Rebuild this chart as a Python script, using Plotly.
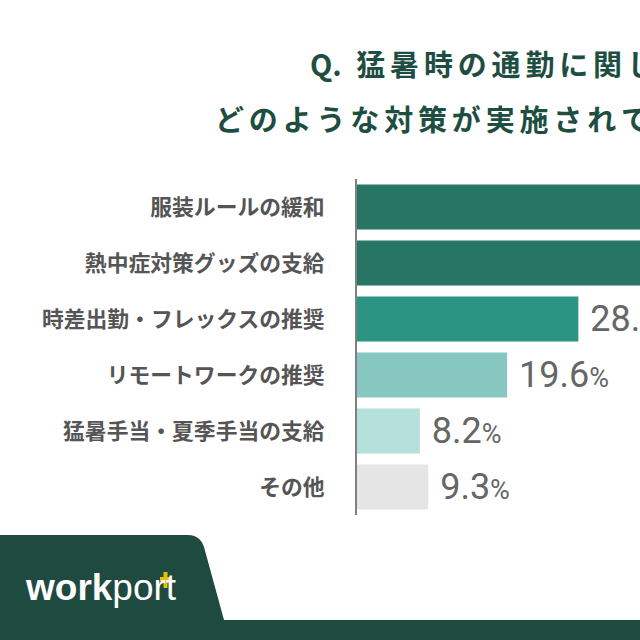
import plotly.graph_objects as go

# ---- data ----
categories = [
    "服装ルールの緩和",
    "熱中症対策グッズの支給",
    "時差出勤・フレックスの推奨",
    "リモートワークの推奨",
    "猛暑手当・夏季手当の支給",
    "その他",
]
values = [50.4, 41.5, 28.9, 19.6, 8.2, 9.3]
bar_colors = ["#277565", "#277565", "#2b9483", "#86c8c0", "#b5dfda", "#e5e5e5"]
title_prefix = "Q."
title_lines = ["猛暑時の通勤に関して、", "どのような対策が実施されていますか？"]
logo_bold = "work"
logo_light = "port"

W, H = 640, 640
L, R, T, B = 357, 0, 179, 125
PW, PH = W - L - R, H - T - B


def px(x):
    return (x - L) / PW


def py(y):
    return (H - B - y) / PH


SP = "\u2006"


def spaced(s):
    return SP.join(list(s))


fig = go.Figure(
    go.Bar(
        x=values,
        y=categories,
        orientation="h",
        width=0.8,
        marker=dict(color=bar_colors, line=dict(width=0)),
        text=[f"\u00a0{v:.1f}<span style='font-size:27px'>%</span>" for v in values],
        textposition="outside",
        textfont=dict(family="Roboto", size=36, color="#666666"),
        constraintext="none",
        cliponaxis=True,
        hoverinfo="skip",
    )
)

fig.update_layout(
    width=W,
    height=H,
    margin=dict(l=L, r=R, t=T, b=B, pad=0),
    paper_bgcolor="white",
    plot_bgcolor="white",
    showlegend=False,
    xaxis=dict(range=[0, 283 / 7.66], visible=False, fixedrange=True),
    yaxis=dict(
        type="category",
        range=[5.5, -0.5],
        showline=True,
        linecolor="#808080",
        linewidth=2,
        ticks="",
        ticklabelstandoff=26,
        showgrid=False,
        zeroline=False,
        tickfont=dict(family="Noto Sans CJK JP", size=21.8, color="#555555", weight="bold"),
    ),
)

title_font = dict(family="Noto Sans CJK JP", size=29, color="#1e4e41", weight="bold")
# Title (cropped at the right edge like the reference)
fig.add_annotation(
    text=title_prefix + "\u2002" + spaced(title_lines[0]),
    x=px(308), y=py(63), xref="paper", yref="paper",
    xanchor="left", yanchor="middle", showarrow=False,
    font=title_font,
)
fig.add_annotation(
    text=spaced(title_lines[1]),
    x=px(213), y=py(118), xref="paper", yref="paper",
    xanchor="left", yanchor="middle", showarrow=False,
    font=title_font,
)

# Footer band
footer = [(0, 535), (188, 535), (200, 535), (204, 547), (224, 620), (640, 620), (640, 640), (0, 640)]
path = "M {},{} L {},{} Q {},{} {},{} L {},{} L {},{} L {},{} L {},{} Z".format(
    *[v for p in footer for v in (px(p[0]), py(p[1]))]
)
fig.add_shape(type="path", path=path, xref="paper", yref="paper",
              fillcolor="#1f4a3f", line=dict(width=0), layer="above")

# Logo
fig.add_annotation(
    text=f"<b>{logo_bold}</b>{logo_light}",
    x=px(23), y=py(587), xref="paper", yref="paper",
    xanchor="left", yanchor="middle", showarrow=False,
    font=dict(family="Liberation Sans", size=37, color="white"),
)
fig.add_shape(type="rect", xref="paper", yref="paper",
              x0=px(163.5), x1=px(167.5), y0=py(572), y1=py(588),
              fillcolor="#e8c000", line=dict(width=0), layer="above")
fig.add_shape(type="rect", xref="paper", yref="paper",
              x0=px(160), x1=px(171), y0=py(577), y1=py(581),
              fillcolor="#e8c000", line=dict(width=0), layer="above")

fig.write_html("out.html")
